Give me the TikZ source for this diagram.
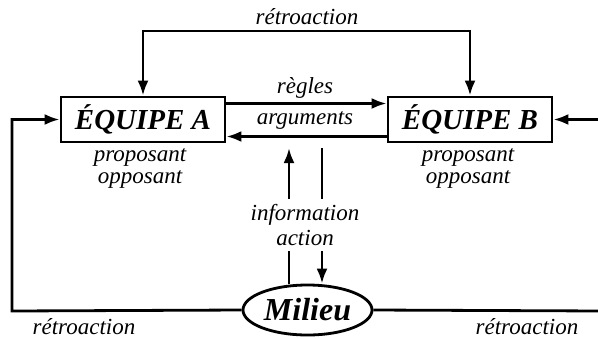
\documentclass[tikz,border=0pt]{standalone}
\usepackage{fontspec}
\setmainfont{Liberation Serif}
\usetikzlibrary{arrows.meta,positioning,shapes.geometric,calc}

\begin{document}
\begin{tikzpicture}[x=0.5pt,y=-0.5pt,line width=1.4pt,
  team/.style={draw,rectangle,minimum width=82pt,minimum height=22.5pt,inner sep=0pt,
    font=\fontsize{14.5}{16}\selectfont\bfseries\itshape},
  env/.style={draw,ellipse,minimum width=64.5pt,minimum height=25pt,inner sep=0pt,
    font=\fontsize{16}{16}\selectfont\bfseries\itshape},
  lbl/.style={inner sep=0pt,align=center,font=\fontsize{11.5}{11}\selectfont\itshape},
  arr/.style={-{Latex[length=7.5pt,width=5.5pt]}}]
\useasboundingbox (0,0) rectangle (598,338);

% the two teams and the environment
\node[team] (eqA) at (143,119.5) {ÉQUIPE A};
\node[team] (eqB) at (470,119.5) {ÉQUIPE B};
\node[env] (milieu) at (307.5,310) {Milieu};

% labels
\node[lbl] (roles A) at (140,168) {proposant\\opposant};
\node[lbl] (roles B) at (468,168) {proposant\\opposant};
\node[lbl] (regles) at (305,88) {règles};
\node[lbl] (args) at (305,120) {arguments};
\node[lbl,inner sep=2pt,font=\fontsize{11.5}{12.5}\selectfont\itshape] (info) at (305,225) {information\\action};
\node[lbl] (retro top) at (307,17) {rétroaction};
\node[lbl] (retro L) at (84,327) {rétroaction};
\node[lbl] (retro R) at (527,327) {rétroaction};

\coordinate (top) at (306,31);
\coordinate (loopL) at (12,311);
\coordinate (loopR) at (603,311);
\coordinate (midtop) at (305,148);

% feedback loops
\draw[arr] (top) -| (eqA);
\draw[arr] (top) -| (eqB);
\draw[arr] (milieu.west) -- (loopL) |- (eqA.west);
\draw[arr] (milieu.east) -- (loopR) |- (eqB.east);

% exchanges between teams
\draw[arr] ([yshift=8pt]eqA.east) -- ([yshift=8pt]eqB.west);
\draw[arr] ([yshift=-8.5pt]eqB.west) -- ([yshift=-8.5pt]eqA.east);

% information / action
\draw[arr] ([xshift=-8pt]info.north) -- ([xshift=-8pt]midtop);
\draw ([xshift=8.5pt]midtop) -- ([xshift=8.5pt]info.north);
\draw ([xshift=-8pt]info.south) -- ([xshift=-8pt]info.south |- milieu.north);
\draw[arr] ([xshift=8.5pt]info.south) -- ([xshift=8.5pt]info.south |- milieu.north);
\end{tikzpicture}
\end{document}
